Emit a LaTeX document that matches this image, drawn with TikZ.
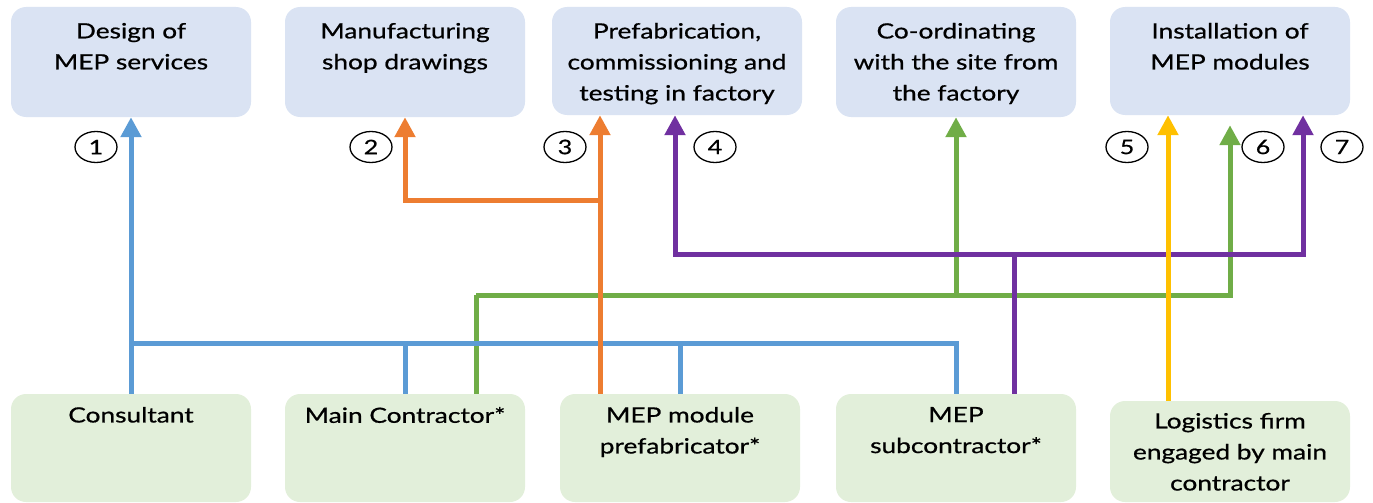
\documentclass[tikz,border=0pt]{standalone}
\usepackage{fontspec}
\setmainfont{Lato}[FakeStretch=1.25,FakeBold=0.7]
\usepackage{tikz}
\usetikzlibrary{arrows.meta,calc,shapes.geometric,positioning}
\usepackage{xcolor}
\definecolor{taskfill}{RGB}{218,227,243}
\definecolor{partyfill}{RGB}{226,239,218}
\definecolor{cblue}{RGB}{91,155,213}
\definecolor{corange}{RGB}{237,125,49}
\definecolor{cgreen}{RGB}{112,173,71}
\definecolor{cpurple}{RGB}{112,48,160}
\definecolor{cyellow}{RGB}{255,192,0}

\tikzset{
  taskbox/.style={rectangle,rounded corners=15pt,fill=taskfill,minimum width=240pt,minimum height=110pt,inner sep=0pt},
  partybox/.style={rectangle,rounded corners=15pt,fill=partyfill,minimum width=240pt,minimum height=108pt,inner sep=0pt},
  boxtext/.style={anchor=north,align=center,inner sep=0pt,font=\fontsize{21}{31}\selectfont},
  numcirc/.style={ellipse,draw,line width=1.3pt,minimum width=42pt,minimum height=31pt,inner sep=0pt,font=\fontsize{20}{24}\selectfont},
  link/.style={line width=5pt},
  tip/.style={-{Triangle[width=20pt,length=20pt]}}
}

\begin{document}
\begin{tikzpicture}[x=1pt,y=-1pt]
  \useasboundingbox (0,0) rectangle (1373,503);
  % activities (top row)
  \node[taskbox] (design) at (131,62) {};
  \node[taskbox] (shop) at (405,62) {};
  \node[taskbox,minimum width=250pt,minimum height=108pt] (prefab) at (677,61) {};
  \node[taskbox] (coord) at (956,62) {};
  \node[taskbox,minimum height=108pt] (install) at (1230,61) {};
  \node[boxtext] (designT) at ([yshift=-16pt]design.north) {Design of\\MEP services};
  \node[boxtext] (shopT) at ([yshift=-16pt]shop.north) {Manufacturing\\shop drawings};
  \node[boxtext] (prefabT) at ([yshift=-16pt]prefab.north) {Prefabrication,\\commissioning and\\testing in factory};
  \node[boxtext] (coordT) at ([yshift=-16pt]coord.north) {Co-ordinating\\with the site from\\the factory};
  \node[boxtext] (installT) at ([yshift=-16pt]install.north) {Installation of\\MEP modules};
  % parties (bottom row)
  \node[partybox] (cons) at (131,448) {};
  \node[partybox] (mc) at (405,448) {};
  \node[partybox] (pfr) at (680,448) {};
  \node[partybox] (sub) at (956,448) {};
  \node[partybox,minimum height=101pt] (logi) at (1230,451.5) {};
  \node[boxtext] (consT) at ([yshift=-13pt]cons.north) {Consultant};
  \node[boxtext] (mcT) at ([yshift=-13pt]mc.north) {Main Contractor*};
  \node[boxtext] (pfrT) at ([yshift=-13pt]pfr.north) {MEP module\\prefabricator*};
  \node[boxtext] (subT) at ([yshift=-13pt]sub.north) {MEP\\subcontractor*};
  \node[boxtext] (logiT) at ([yshift=-12pt]logi.north) {Logistics firm\\engaged by main\\contractor};
  % numbers
  \foreach \n/\x in {1/96,2/371,3/565,4/715,5/1127,6/1263,7/1342}
    \node[numcirc] (num\n) at (\x,147) {\n};
  % junction points
  \coordinate (gjoin) at (476,295);
  \coordinate (pjoin) at (1014,254);
  \coordinate (bjoin) at (131,343);
  \coordinate (ojoin) at (600,200);
  % green: main contractor
  \draw[link,cgreen] (mc.north -| gjoin) -- (gjoin);
  \draw[link,cgreen,tip,shorten >=10pt] (gjoin) -| (install.south);
  \draw[link,cgreen,tip] (coord.south |- gjoin) -- (coord.south);
  % purple: MEP subcontractor
  \draw[link,cpurple] (sub.north -| pjoin) -- (pjoin);
  \draw[link,cpurple,tip] (pjoin) -| ([xshift=-2pt]prefab.south);
  \draw[link,cpurple,tip] (pjoin) -| ([xshift=73pt]install.south);
  % blue: consultant
  \draw[link,cblue,tip] (cons.north) -- (design.south);
  \draw[link,cblue] (bjoin) -| (sub.north);
  \draw[link,cblue] (mc.north) -- (mc.north |- bjoin);
  \draw[link,cblue] (pfr.north) -- (pfr.north |- bjoin);
  % orange: prefabricator
  \draw[link,corange,tip] (pfr.north -| ojoin) -- (prefab.south -| ojoin);
  \draw[link,corange,tip] (ojoin) -| (shop.south);
  % yellow: logistics
  \draw[link,cyellow,tip] ([xshift=-62pt]logi.north) -- ([xshift=-62pt]install.south);
\end{tikzpicture}
\end{document}
